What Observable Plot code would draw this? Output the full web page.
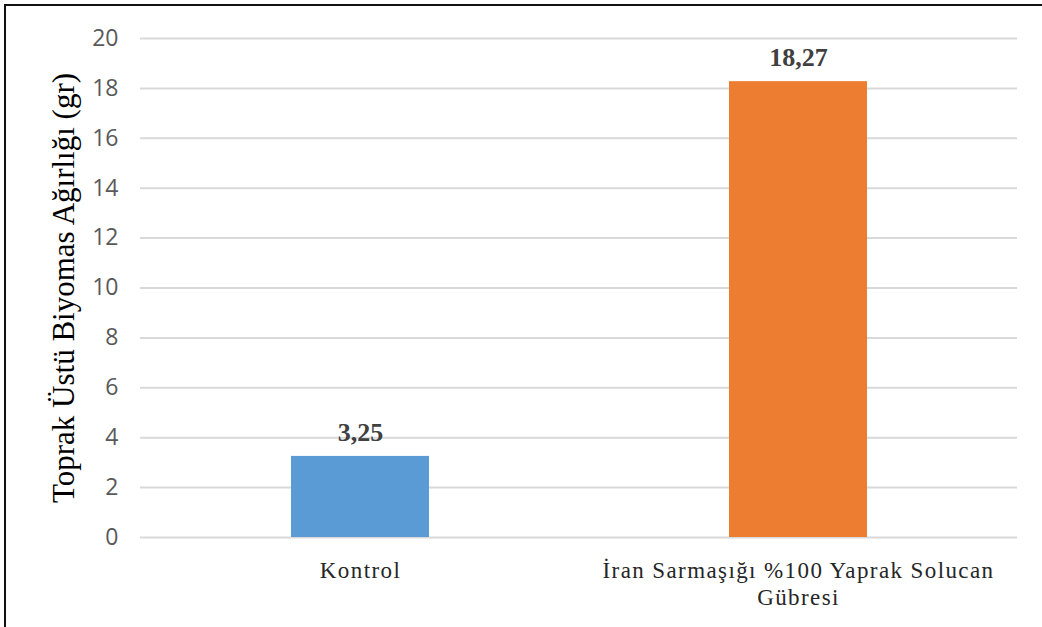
<!DOCTYPE html>
<html>
<head>
<meta charset="utf-8">
<script src="https://cdn.jsdelivr.net/npm/d3@7"></script>
<script src="https://cdn.jsdelivr.net/npm/@observablehq/plot@0.6"></script>
<style>
  html, body { margin: 0; padding: 0; background: #fff; }
  #wrap { position: relative; width: 1042px; height: 627px; overflow: hidden; }
  #frame { position: absolute; left: 4px; top: 4px; width: 1100px; height: 700px;
           border-top: 2px solid #111; border-left: 2px solid #111; pointer-events: none; }
  g[aria-label="y-axis tick label"] text { font-family: "Open Sans", sans-serif; font-size: 23px; fill: #595959; }
  .cat-label text { letter-spacing: 1.4px; }
</style>
</head>
<body>
<div id="wrap"><div id="frame"></div></div>
<script>
// Treatments and aboveground biomass (g)
const categories = ["Kontrol", "İran Sarmaşığı %100 Yaprak Solucan\nGübresi"];
const values = [3.25, 18.27];
const colors = ["#5B9BD5", "#ED7D31"];
const yTicks = [0, 2, 4, 6, 8, 10, 12, 14, 16, 18, 20];

const data = categories.map((c, i) => ({category: c, value: values[i], color: colors[i]}));
const fmt = v => v.toFixed(2).replace(".", ",");

const chart = Plot.plot({
  width: 1042,
  height: 627,
  marginLeft: 140,
  marginRight: 25,
  marginTop: 38,
  marginBottom: 90,
  style: {background: "transparent", overflow: "visible"},
  x: {domain: categories, paddingInner: 0.685, paddingOuter: 0.3425, label: null, axis: null},
  y: {domain: [0, 20], ticks: yTicks, label: null, axis: null},
  marks: [
    Plot.gridY(yTicks, {stroke: "#d9d9d9", strokeOpacity: 1, strokeWidth: 2}),
    Plot.barY(data, {x: "category", y: "value", fill: "color"}),
    Plot.text(data, {
      x: "category", y: "value", text: d => fmt(d.value), dy: -24,
      fontFamily: "Liberation Serif", fontWeight: "bold", fontSize: 26, fill: "#404040"
    }),
    Plot.axisY(yTicks, {
      tickSize: 0, tickPadding: 22, label: null
    }),
    // category labels under the bars
    Plot.text(categories, {
      x: d => d, frameAnchor: "bottom", lineAnchor: "top", dy: 21, lineHeight: 1.18,
      text: d => d, textOverflow: null, className: "cat-label",
      fontFamily: "Liberation Serif", fontSize: 23, fill: "#262626"
    }),
    Plot.text(["Toprak Üstü Biyomas Ağırlığı (gr)"], {
      frameAnchor: "left", dx: -76, dy: 0, rotate: -90, textAnchor: "middle", text: d => d,
      fontFamily: "Liberation Serif", fontSize: 31, fill: "#000"
    })
  ]
});

document.getElementById("wrap").prepend(chart);
</script>
</body>
</html>
